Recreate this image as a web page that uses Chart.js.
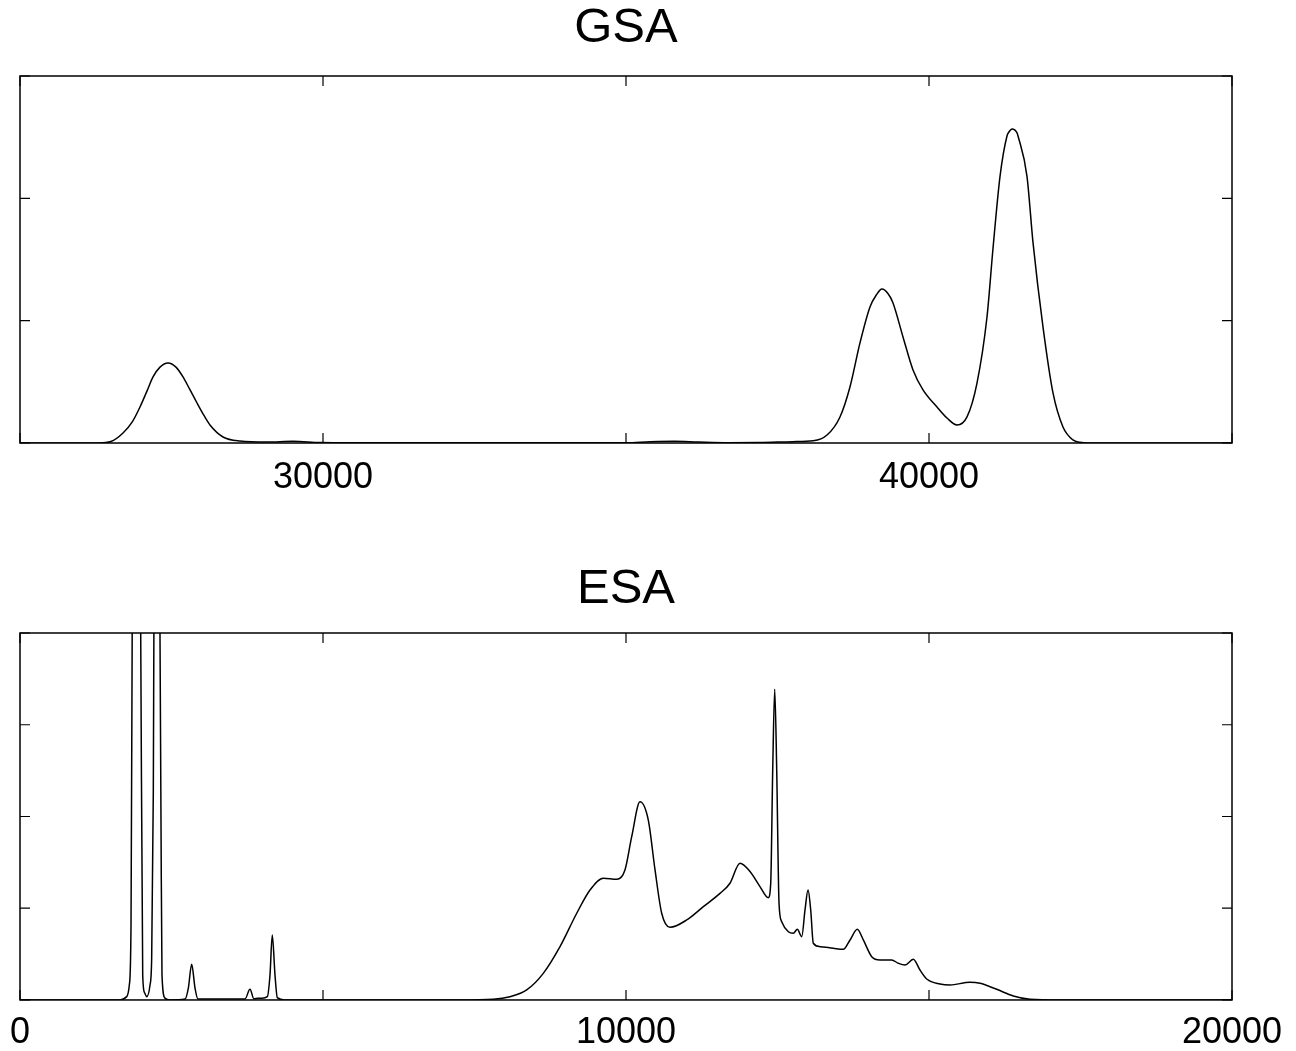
<!DOCTYPE html>
<html lang="en">
<head>
<meta charset="UTF-8">
<title>GSA / ESA</title>
<style>
  body { margin: 0; background: #fff; overflow: hidden; }
  #wrap { position: relative; width: 1296px; height: 1051px; overflow: hidden; }
  canvas { position: absolute; left: 0; }
  #gsa { top: 0; }
  #esa { top: 520px; }
</style>
</head>
<body>
<div id="wrap">
  <canvas id="gsa" width="1296" height="520"></canvas>
  <canvas id="esa" width="1296" height="548"></canvas>
</div>
<script src="https://cdn.jsdelivr.net/npm/chart.js@4.4.1/dist/chart.umd.min.js"></script>
<script>
// GSA spectrum (top panel)
const gsaX = [25000, 26300, 26500, 26700, 26850, 26980, 27100, 27195, 27310, 27442, 27574, 27690, 27800, 27921, 28030, 28135, 28350, 28630, 29076, 29505, 29950, 30500,
  35000, 35400, 35800, 36200, 36700, 37200, 37750, 38090, 38317, 38531, 38696, 38861, 39026, 39130, 39224, 39325, 39406, 39571, 39736, 39901, 40132, 40297, 40462,
  40627, 40792, 40957, 41056, 41172, 41287, 41316, 41370, 41453, 41469, 41617, 41716, 41881, 42046, 42211, 42376, 42541, 43000, 45000];
const gsaY = [0, 0, 0.012, 0.082, 0.17, 0.294, 0.43, 0.54, 0.62, 0.654, 0.62, 0.54, 0.44, 0.327, 0.23, 0.147, 0.049, 0.016, 0.008, 0.014, 0.004, 0.002,
  0.002, 0.01, 0.014, 0.008, 0.003, 0.004, 0.011, 0.018, 0.065, 0.213, 0.458, 0.818, 1.112, 1.21, 1.259, 1.22, 1.145, 0.867, 0.597, 0.434, 0.294, 0.204, 0.147,
  0.213, 0.49, 1.03, 1.59, 2.18, 2.51, 2.54, 2.567, 2.535, 2.51, 2.18, 1.64, 0.949, 0.409, 0.131, 0.025, 0.003, 0, 0];

// ESA spectrum (bottom panel)
const esaX = [0, 1320, 1650, 1761, 1804, 1832, 1853, 1930, 1992, 2025, 2055, 2091, 2145, 2173, 2200, 2211, 2261, 2310, 2327, 2343, 2393, 2475,
  2723, 2778, 2833, 2888, 2937, 3713, 3795, 3861, 3927, 3993, 4081, 4125, 4163, 4208, 4246, 4373,
  7261, 7810, 8086, 8361, 8635, 8911, 9187, 9406, 9626, 9847, 9983, 10094, 10231, 10368, 10479, 10589, 10726, 11002, 11276, 11551,
  11716, 11881, 12046, 12211, 12348, 12388, 12421, 12454, 12487, 12525, 12569, 12679, 12761, 12827, 12900, 12954, 13004, 13048, 13091,
  13201, 13421, 13586, 13697, 13817, 13916, 14055, 14191, 14384, 14493, 14604, 14741, 14851, 14962, 15182, 15347, 15677, 15842, 16117,
  16391, 16667, 17162, 20000];
const esaY = [0, 0, 0, 0.036, 0.163, 0.817, 4.3, 9, 4.0, 0.27, 0.08, 0.036, 0.16, 0.46, 2.27, 4.3, 9, 4.0, 1.9, 0.27, 0.02, 0,
  0.01, 0.13, 0.389, 0.13, 0.01, 0.01, 0.117, 0.01, 0.02, 0.02, 0.036, 0.27, 0.708, 0.27, 0.025, 0,
  0, 0.008, 0.036, 0.109, 0.29, 0.581, 0.945, 1.199, 1.326, 1.315, 1.417, 1.78, 2.16, 1.96, 1.417, 0.945, 0.792, 0.872, 1.017, 1.162,
  1.272, 1.49, 1.4, 1.236, 1.114, 1.272, 2.507, 3.386, 2.507, 1.054, 0.853, 0.744, 0.727, 0.77, 0.69, 0.981, 1.199, 0.981, 0.618,
  0.581, 0.563, 0.552, 0.654, 0.77, 0.654, 0.472, 0.436, 0.436, 0.4, 0.381, 0.443, 0.327, 0.229, 0.174, 0.163, 0.193, 0.182, 0.116,
  0.044, 0.008, 0, 0];

// tick labels that are actually printed
const gsaTickLabels = [30000, 40000];
const esaTickLabels = [0, 10000, 20000];

const FONT = '"Liberation Sans", Arial, sans-serif';

// box round the plot area plus inward tick marks on all four sides
const framePlugin = {
  id: 'frame',
  afterDatasetsDraw(chart) {
    const { ctx, chartArea: a, scales } = chart;
    ctx.save();
    ctx.strokeStyle = '#000';
    ctx.lineWidth = 1.5;
    ctx.strokeRect(a.left, a.top, a.right - a.left, a.bottom - a.top);
    ctx.lineWidth = 1.2;
    ctx.beginPath();
    scales.x.ticks.forEach(t => {
      const px = scales.x.getPixelForValue(t.value);
      ctx.moveTo(px, a.bottom); ctx.lineTo(px, a.bottom - 10);
      ctx.moveTo(px, a.top); ctx.lineTo(px, a.top + 10);
    });
    scales.y.ticks.forEach(t => {
      const py = scales.y.getPixelForValue(t.value);
      ctx.moveTo(a.left, py); ctx.lineTo(a.left + 10, py);
      ctx.moveTo(a.right, py); ctx.lineTo(a.right - 10, py);
    });
    ctx.stroke();
    ctx.restore();
  }
};

function makeChart(id, title, xs, ys, xMin, xMax, yMax, labels, titlePad, bottomPad, tickLH) {
  const pts = xs.map((x, i) => ({ x: x, y: ys[i] }));
  return new Chart(document.getElementById(id).getContext('2d'), {
    type: 'line',
    data: {
      datasets: [{
        data: pts,
        borderColor: '#000',
        borderWidth: 1.5,
        pointRadius: 0,
        fill: false,
        cubicInterpolationMode: 'monotone'
      }]
    },
    options: {
      responsive: false,
      animation: false,
      devicePixelRatio: 1,
      layout: { padding: { left: 20, right: 64, top: 0, bottom: bottomPad } },
      plugins: {
        legend: { display: false },
        tooltip: { enabled: false },
        title: {
          display: true,
          text: title,
          color: '#000',
          font: { family: FONT, size: 49, weight: 'normal', lineHeight: 1 },
          padding: titlePad
        }
      },
      scales: {
        x: {
          type: 'linear',
          min: xMin,
          max: xMax,
          grid: { display: false, drawTicks: false },
          border: { display: false },
          ticks: {
            stepSize: 5000,
            autoSkip: false,
            maxRotation: 0,
            padding: 4,
            color: '#000',
            font: { family: FONT, size: 36, lineHeight: tickLH },
            callback: v => labels.includes(v) ? String(v) : ''
          }
        },
        y: {
          min: 0,
          max: yMax,
          grid: { display: false, drawTicks: false },
          border: { display: false },
          ticks: { display: false, stepSize: 1 }
        }
      }
    },
    plugins: [framePlugin]
  });
}

makeChart('gsa', 'GSA', gsaX, gsaY, 25000, 45000, 3, gsaTickLabels, { top: 4, bottom: 23 }, 6, 1.75);
makeChart('esa', 'ESA', esaX, esaY, 0, 20000, 4, esaTickLabels, { top: 44.5, bottom: 19.5 }, 1, 1.64);
</script>
</body>
</html>
